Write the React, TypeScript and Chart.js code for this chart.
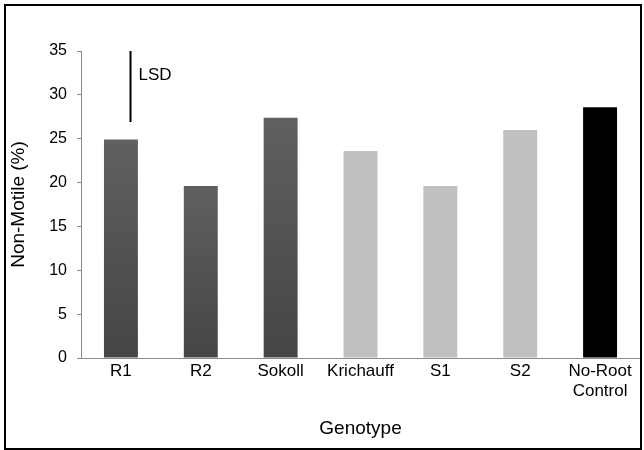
import React, { useEffect, useRef } from "react";
import { Chart, registerables } from "chart.js";

Chart.register(...registerables);

const categories: (string | string[])[] = ["R1", "R2", "Sokoll", "Krichauff", "S1", "S2", ["No-Root", "Control"]];
const values: number[] = [24.9, 19.6, 27.4, 23.6, 19.6, 26.0, 28.6];
const barGroups: string[] = ["dark", "dark", "dark", "light", "light", "light", "black"];
const yMin = 0;
const yMax = 35;
const yStep = 5;
const lsdTop = 35;
const lsdBottom = 26.9;
const lsdCategoryPos = 0.12;
const lsdLabel = "LSD";
const xTitle = "Genotype";
const yTitle = "Non-Motile (%)";

const FONT = "'Liberation Sans', Arial, sans-serif";

const borderPlugin = {
  id: "outerBorder",
  afterDraw(chart: any) {
    const ctx = chart.ctx;
    ctx.save();
    ctx.strokeStyle = "#000";
    ctx.lineWidth = 2;
    ctx.strokeRect(5, 5, chart.width - 8, chart.height - 6);
    ctx.restore();
  },
};

const lsdPlugin = {
  id: "lsdMark",
  afterDatasetsDraw(chart: any) {
    const { ctx, scales } = chart;
    const x = scales.x.getPixelForValue(lsdCategoryPos);
    const y1 = scales.y.getPixelForValue(lsdTop);
    const y2 = scales.y.getPixelForValue(lsdBottom);
    ctx.save();
    ctx.strokeStyle = "#000";
    ctx.lineWidth = 2;
    ctx.beginPath();
    ctx.moveTo(x, y1);
    ctx.lineTo(x, y2);
    ctx.stroke();
    ctx.fillStyle = "#000";
    ctx.font = `17px ${FONT}`;
    ctx.textBaseline = "middle";
    ctx.textAlign = "left";
    ctx.fillText(lsdLabel, x + 8, scales.y.getPixelForValue((lsdTop + lsdBottom) / 2 + 1.3));
    ctx.restore();
  },
};

function barColor(c: any) {
  const i = c.dataIndex;
  const g = barGroups[i];
  if (g === "light") return "#c0c0c0";
  if (g === "black") return "#000000";
  const chart = c.chart;
  const ys = chart.scales && chart.scales.y;
  if (!ys || !chart.chartArea) return "#555555";
  const top = ys.getPixelForValue(values[i]);
  const bottom = ys.getPixelForValue(0);
  if (!isFinite(top) || !isFinite(bottom) || bottom <= top) return "#555555";
  const grad = chart.ctx.createLinearGradient(0, top, 0, bottom);
  grad.addColorStop(0, "#606060");
  grad.addColorStop(1, "#454545");
  return grad;
}

export default function App() {
  const ref = useRef<HTMLCanvasElement>(null);
  useEffect(() => {
    if (!ref.current) return;
    const chart = new Chart(ref.current, {
      type: "bar",
      data: {
        labels: categories as any,
        datasets: [
          {
            data: values,
            backgroundColor: barColor as any,
            borderWidth: 0,
            categoryPercentage: 1,
            barPercentage: 0.425,
          },
        ],
      },
      options: {
        responsive: false,
        animation: false,
        layout: { padding: { top: 51, right: 4, left: 0, bottom: 0 } },
        plugins: {
          legend: { display: false },
          tooltip: { enabled: false },
        },
        scales: {
          x: {
            afterFit(s: any) {
              s.height = 92;
            },
            grid: { display: false, drawTicks: false },
            border: { display: true, color: "#8a8a8a", width: 1 },
            ticks: {
              color: "#000",
              font: { family: FONT, size: 17, lineHeight: 1.15 },
              padding: 4,
              maxRotation: 0,
              autoSkip: false,
            },
            title: {
              display: true,
              text: xTitle,
              color: "#000",
              font: { family: FONT, size: 19 },
              padding: { top: 0, bottom: 10 },
            },
          },
          y: {
            min: yMin,
            max: yMax,
            afterFit(s: any) {
              s.width = 81;
            },
            grid: { drawOnChartArea: false, drawTicks: true, tickLength: 4, color: "#8a8a8a" },
            border: { display: true, color: "#8a8a8a", width: 1 },
            ticks: {
              stepSize: yStep,
              color: "#000",
              font: { family: FONT, size: 16 },
              padding: 10,
            },
            title: {
              display: true,
              text: yTitle,
              color: "#000",
              font: { family: FONT, size: 19 },
              padding: { top: 7, bottom: 0 },
            },
          },
        },
      },
      plugins: [lsdPlugin, borderPlugin],
    });
    return () => chart.destroy();
  }, []);
  return (
    <div style={{ position: "fixed", left: 0, top: 0, width: 644, height: 450, background: "#fff" }}>
      <canvas ref={ref} width={644} height={450} style={{ display: "block" }} />
    </div>
  );
}
